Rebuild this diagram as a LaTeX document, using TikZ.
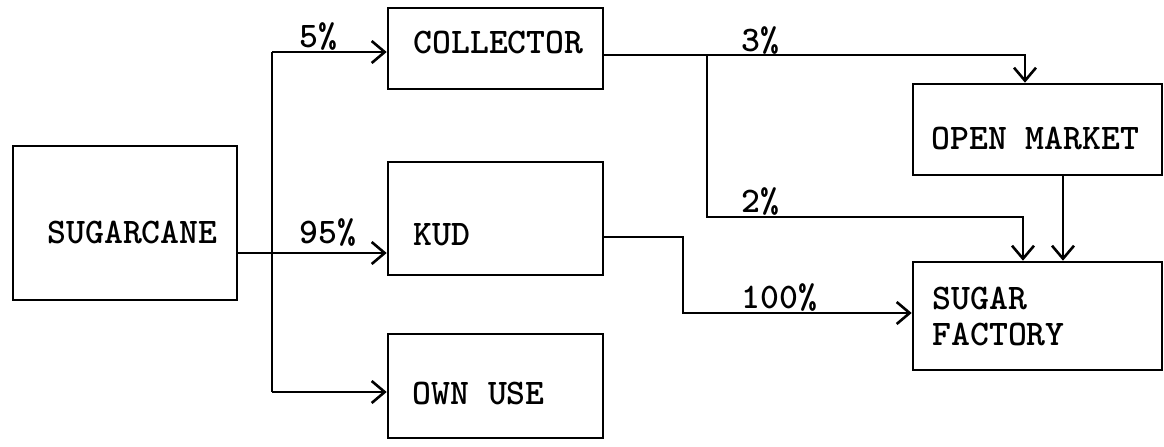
\documentclass[tikz,border=0pt]{standalone}
\usepackage{fontspec}
\usetikzlibrary{arrows.meta}
\tikzset{
  box/.style={draw, line width=1.3pt, inner sep=0pt},
  lbl/.style={font=\ttfamily\bfseries\fontsize{18pt}{18pt}\selectfont, inner sep=0pt, anchor=base west},
  ln/.style={line width=1.3pt},
  arr/.style={ln, -{Straight Barb[length=6.5pt,width=11pt,line width=1.3pt]}}
}
\begin{document}
\begin{tikzpicture}[x=0.5pt,y=-0.5pt]
\useasboundingbox (0,0) rectangle (1164,446);
% boxes
\node[box, minimum width=112pt, minimum height=77pt] (sc) at (125,223) {};
\node[box, minimum width=107.5pt, minimum height=40.5pt] (col) at (495.5,48.5) {};
\node[box, minimum width=107.5pt, minimum height=56.5pt] (kud) at (495.5,218.5) {};
\node[box, minimum width=107.5pt, minimum height=52pt] (own) at (495.5,386) {};
\node[box, minimum width=124.5pt, minimum height=45.5pt] (om) at (1037.5,129.5) {};
\node[box, minimum width=124.5pt, minimum height=54pt] (sf) at (1037.5,316) {};
% texts
\node[lbl] (tsc) at (47,243) {SUGARCANE};
\node[lbl] (tcol) at (413,53) {COLLECTOR};
\node[lbl] (tkud) at (413,245) {KUD};
\node[lbl] (town) at (412,404) {OWN USE};
\node[lbl] (tom) at (931,149) {OPEN MARKET};
\node[lbl, anchor=west, align=left] (tsf) at (932,316) {SUGAR\\FACTORY};
% percent labels
\node[lbl] (p5) at (299,47) {5\%};
\node[lbl] (p95) at (299,243) {95\%};
\node[lbl] (p3) at (741,51) {3\%};
\node[lbl] (p2) at (741,212) {2\%};
\node[lbl] (p100) at (741,308) {100\%};
% junction coordinates
\coordinate (t1) at (272,52);
\coordinate (t2) at (272,253);
\coordinate (t3) at (272,392);
\coordinate (s95) at (237,253);
\coordinate (c1) at (603,55);
\coordinate (j1) at (707,55);
\coordinate (j2) at (707,217);
\coordinate (k1) at (603,237);
\coordinate (k2) at (683,237);
\coordinate (k3) at (683,313);
\coordinate (omx) at (1025,0);
\coordinate (sfx) at (1023,0);
\coordinate (omd) at (1063,0);
% connectors
\draw[ln] (t1) -- (t3);
\draw[arr] (t1) -- (col.west |- t1);
\draw[arr] (s95) -- (kud.west |- s95);
\draw[arr] (t3) -- (own.west |- t3);
\draw[arr] (c1) -- (omx |- c1) -- (omx |- om.north);
\draw[arr] (j1) -- (j2) -- (sfx |- j2) -- (sfx |- sf.north);
\draw[arr] (k1) -- (k2) -- (k3) -- (sf.west |- k3);
\draw[arr] (omd |- om.south) -- (omd |- sf.north);
\end{tikzpicture}
\end{document}
